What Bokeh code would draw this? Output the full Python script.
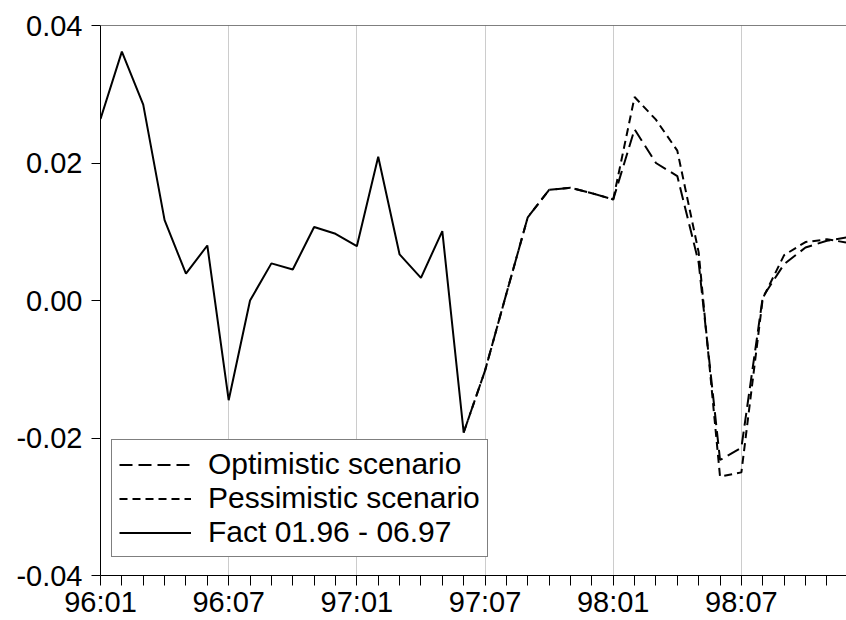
from bokeh.plotting import figure
from bokeh.models import Range1d, FixedTicker, Legend, LegendItem, Span
from bokeh.embed import file_html
from bokeh.resources import INLINE

months = ["96:01", "96:02", "96:03", "96:04", "96:05", "96:06",
          "96:07", "96:08", "96:09", "96:10", "96:11", "96:12",
          "97:01", "97:02", "97:03", "97:04", "97:05", "97:06",
          "97:07", "97:08", "97:09", "97:10", "97:11", "97:12",
          "98:01", "98:02", "98:03", "98:04", "98:05", "98:06",
          "98:07", "98:08", "98:09", "98:10", "98:11", "98:12"]

# Fact 01.96 - 06.97
fact = [0.0264, 0.0362, 0.0285, 0.0117, 0.0039, 0.0080, -0.0145, 0.0000,
        0.0054, 0.0045, 0.0107, 0.0097, 0.0079, 0.0209, 0.0067, 0.0033,
        0.0101, -0.0192]

# Scenarios 06.97 - 12.98
optimistic = [-0.0192, -0.0102, 0.0010, 0.0121, 0.0161, 0.0164, 0.0156, 0.0147,
              0.0249, 0.0200, 0.0181, 0.0055, -0.0232, -0.0214, 0.0005, 0.0053,
              0.0077, 0.0087, 0.0092]
pessimistic = [-0.0192, -0.0102, 0.0010, 0.0121, 0.0161, 0.0164, 0.0156, 0.0147,
               0.0296, 0.0263, 0.0218, 0.0070, -0.0256, -0.0250, 0.0003, 0.0066,
               0.0085, 0.0089, 0.0084]

y_tick_values = [-0.04, -0.02, 0.0, 0.02, 0.04]
y_tick_labels = ["-0.04", "-0.02", "0.00", "0.02", "0.04"]

x_fact = list(range(len(fact)))
start = len(fact) - 1
x_scn = list(range(start, start + len(optimistic)))

FONT = "Liberation Sans"

p = figure(width=846, height=620, output_backend="svg", toolbar_location=None,
           x_range=Range1d(0, 34.92), y_range=Range1d(-0.04, 0.04),
           min_border_left=100, min_border_right=0, min_border_top=25,
           min_border_bottom=43)
p.outline_line_color = None
p.background_fill_color = "white"
p.border_fill_color = "white"

# grid
p.ygrid.visible = False
p.xgrid.ticker = FixedTicker(ticks=[i for i in range(len(months)) if i % 6 == 0 and i > 0])
p.xgrid.grid_line_color = "#cccccc"
p.xgrid.grid_line_width = 1

# x axis
xa = p.xaxis[0]
xa.ticker = FixedTicker(ticks=list(range(len(months))))
xa.major_label_overrides = {i: (m if i % 6 == 0 else "") for i, m in enumerate(months)}
xa.major_tick_out = 10
xa.major_tick_in = 0
xa.minor_tick_line_color = None
xa.axis_line_color = "black"
xa.major_tick_line_color = "black"
xa.major_label_text_font = FONT
xa.major_label_text_font_size = "29px"
xa.major_label_text_color = "black"
xa.major_label_standoff = 0

# y axis
ya = p.yaxis[0]
ya.ticker = FixedTicker(ticks=y_tick_values)
ya.major_label_overrides = {v: l for v, l in zip(y_tick_values, y_tick_labels)}
ya.major_tick_out = 9
ya.major_tick_in = 0
ya.minor_tick_line_color = None
ya.axis_line_color = "black"
ya.major_tick_line_color = "black"
ya.major_label_text_font = FONT
ya.major_label_text_font_size = "29px"
ya.major_label_text_color = "black"
ya.major_label_standoff = 9

# top frame line
p.add_layout(Span(location=0.04, dimension="width", line_color="black", line_width=1))

r_pess = p.line(x_scn, pessimistic, line_color="black", line_width=2, line_dash="8 5")
r_opt = p.line(x_scn, optimistic, line_color="black", line_width=2, line_dash="13 6")
r_fact = p.line(x_fact, fact, line_color="black", line_width=2)

legend = Legend(items=[LegendItem(label="Optimistic scenario", renderers=[r_opt]),
                       LegendItem(label="Pessimistic scenario", renderers=[r_pess]),
                       LegendItem(label="Fact 01.96 - 06.97", renderers=[r_fact])],
                location=(11, 18), orientation="vertical",
                border_line_color="black", border_line_width=1,
                background_fill_color="white", background_fill_alpha=1,
                label_text_font=FONT, label_text_font_size="30px",
                label_text_color="black",
                glyph_width=72, glyph_height=31, label_height=31,
                spacing=0, padding=7, margin=0, label_standoff=17)
p.add_layout(legend)

open("out.html", "w").write(file_html(p, INLINE))
